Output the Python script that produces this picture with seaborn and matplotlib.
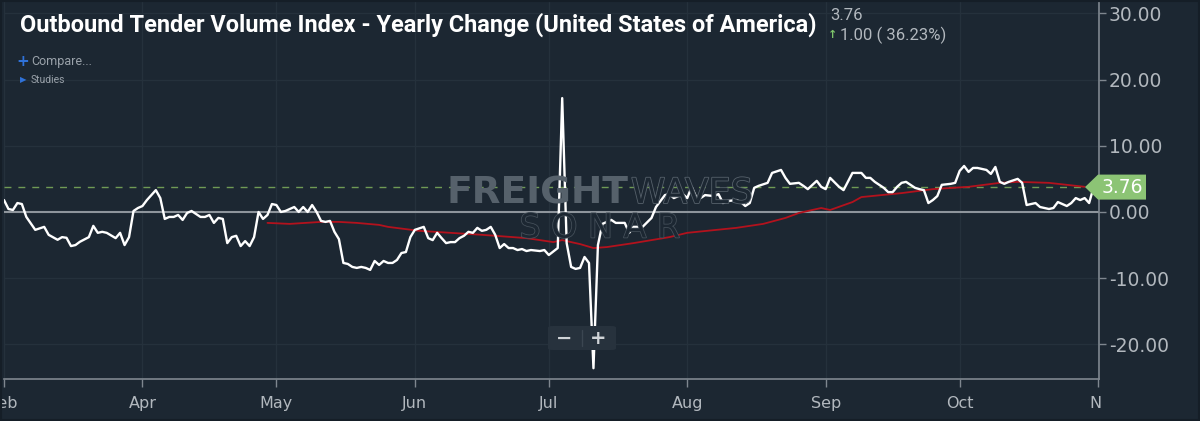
import numpy as np
import pandas as pd
import matplotlib
matplotlib.use("Agg")
import matplotlib.pyplot as plt
import matplotlib.patheffects as pe
from matplotlib.patches import Polygon, FancyBboxPatch, Rectangle
from matplotlib.transforms import Bbox, ScaledTranslation, blended_transform_factory
from matplotlib.lines import Line2D
import seaborn as sns

# ---------------- data ----------------
START = "2019-03-01"
otvi_days = [0, 1, 2, 3, 4, 5, 7, 9, 10, 12, 13, 14, 15, 16, 17, 19, 20, 21, 22, 23, 25, 26, 27, 28, 29, 30,
             31, 32, 34, 35, 36, 37, 38, 39, 40, 41, 42, 44, 45, 46, 47, 48, 49, 50, 51, 52, 53, 54, 55, 56,
             57, 58, 59, 60, 61, 62, 63, 65, 66, 67, 68, 69, 70, 71, 72, 73, 74, 75, 76, 77, 78, 79, 80, 81,
             82, 83, 84, 85, 86, 87, 88, 89, 90, 91, 92, 94, 95, 96, 97, 98, 99, 100, 101, 102, 103, 104, 105,
             106, 107, 108, 109, 110, 111, 112, 113, 114, 115, 116, 117, 118, 120, 121, 122, 124, 125, 126,
             127, 128, 129, 130, 131, 132, 133, 134, 135, 136, 137, 139, 140, 141, 143, 145, 146, 148, 149,
             150, 152, 153, 154, 155, 156, 157, 159, 160, 161, 162, 164, 165, 166, 167, 168, 169, 171, 172,
             174, 175, 176, 178, 179, 180, 182, 183, 184, 185, 187, 188, 190, 191, 192, 193, 194, 195, 197,
             198, 199, 200, 201, 202, 204, 205, 206, 207, 208, 209, 210, 212, 213, 214, 215, 216, 217, 218,
             220, 221, 222, 223, 224, 225, 227, 228, 229, 231, 232, 234, 235, 236, 238, 239, 240, 241, 242,
             243, 244]
otvi_values = [1.8, 0.45, 0.3, 1.35, 1.2, -0.75, -2.7, -2.25, -3.45, -4.2, -3.8, -3.9, -5.15, -5.0, -4.5,
               -3.8, -2.1, -3.15, -3.0, -3.15, -3.95, -3.15, -5.0, -3.8, 0.15, 0.6, 0.9, 1.8, 3.3, 2.1,
               -1.05, -0.75, -0.75, -0.45, -1.2, -0.15, 0.15, -0.75, -0.75, -0.45, -1.65, -0.9, -1.05, -4.7,
               -3.8, -3.6, -5.15, -4.4, -5.15, -3.8, 0.0, -1.05, -0.45, 1.2, 1.05, 0.0, 0.15, 0.75, 0.0, 0.75,
               0.0, 1.05, 0.0, -1.35, -1.5, -1.35, -3.0, -4.1, -7.7, -7.85, -8.3, -8.45, -8.3, -8.45, -8.75,
               -7.4, -8.0, -7.4, -7.7, -7.7, -7.25, -6.2, -6.05, -3.8, -2.7, -2.25, -3.95, -4.25, -3.15,
               -3.95, -4.7, -4.55, -4.55, -3.95, -3.6, -3.0, -3.15, -2.4, -2.85, -2.7, -2.25, -3.45, -5.45,
               -4.85, -5.45, -5.45, -5.75, -5.6, -5.9, -5.75, -5.9, -5.75, -6.5, -5.45, 17.2, -4.7, -8.3,
               -8.6, -8.45, -6.8, -7.7, -23.6, -5.0, -1.8, -1.5, -1.2, -1.65, -1.65, -3.15, -2.25, -2.25,
               -0.9, 0.75, 2.55, 2.7, 2.1, 2.7, 2.1, 3.8, 2.25, 2.1, 2.55, 2.4, 2.7, 1.35, 1.65, 1.8, 1.5,
               0.9, 1.35, 3.65, 3.95, 4.4, 5.9, 6.35, 5.15, 4.25, 4.4, 3.95, 3.45, 4.7, 3.8, 3.45, 5.15, 3.8,
               3.3, 5.9, 5.9, 5.9, 5.15, 5.15, 4.55, 3.65, 3.0, 3.0, 3.8, 4.4, 4.55, 3.65, 3.45, 3.3, 1.35,
               1.8, 2.4, 4.1, 4.25, 4.4, 6.2, 6.95, 6.05, 6.65, 6.65, 6.35, 5.75, 6.8, 4.55, 4.25, 4.55, 5.0,
               4.4, 1.05, 1.35, 0.75, 0.45, 0.6, 1.5, 0.9, 1.35, 2.1, 1.8, 2.1, 1.35, 3.76]
ma_days = [59, 64, 71, 75, 79, 84, 86, 93, 107, 117, 123, 125, 129, 132, 135, 141, 149, 153, 164, 170,
           175, 178, 183, 185, 190, 192, 201, 208, 216, 223, 227, 234, 242]
ma_values = [-1.65, -1.8, -1.5, -1.5, -1.65, -1.95, -2.25, -2.85, -3.45, -3.95, -4.55, -4.25, -4.85, -5.45,
             -5.3, -4.7, -3.8, -3.15, -2.4, -1.8, -0.9, -0.15, 0.6, 0.3, 1.5, 2.25, 2.85, 3.45, 3.8, 4.4,
             4.55, 4.4, 3.8]
last_value = 3.76
change_text = "1.00 ( 36.23%)"
month_ticks = ["2019-03-01", "2019-04-01", "2019-05-01", "2019-06-01", "2019-07-01",
               "2019-08-01", "2019-09-01", "2019-10-01", "2019-11-01"]
month_labels = ["Feb", "Apr", "May", "Jun", "Jul", "Aug", "Sep", "Oct", "Nov"]
y_ticks = [-20, -10, 0, 10, 20, 30]
title = "Outbound Tender Volume Index - Yearly Change (United States of America)"

# ---------------- styling ----------------
BG = "#1c2732"
GRID = "#25313c"
AXIS = "#7f878f"
TXT = "#b2b8be"
WM = "#56616b"

sns.set_theme(style="dark")
plt.rcParams["font.family"] = ["DejaVu Sans"]

W, H = 1200, 421
fig = plt.figure(figsize=(W / 100, H / 100), dpi=100, facecolor=BG)
ax = fig.add_axes([4 / W, 1 - 379 / H, (1099 - 4) / W, 379 / H])
ax.set_facecolor(BG)

start = pd.Timestamp(START)
df = pd.DataFrame({"date": start + pd.to_timedelta(otvi_days, unit="D"), "value": otvi_values})
dma = pd.DataFrame({"date": start + pd.to_timedelta(ma_days, unit="D"), "value": ma_values})


def fx(px):
    return px / W


def fy(py):
    return 1 - py / H


# watermark (behind data)
fig.text(fx(628), fy(193), "FREIGHT", ha="right", va="center", fontsize=27, fontweight="bold",
         color=WM, family=["DejaVu Sans"], zorder=0.5)
fig.text(fx(631), fy(193), "WAVES", ha="left", va="center", fontsize=25, color=BG,
         family=["DejaVu Sans"], zorder=0.5,
         path_effects=[pe.Stroke(linewidth=1.2, foreground=WM), pe.Normal()])
fig.text(fx(600), fy(228), "S O N A R", ha="center", va="center", fontsize=24, color=BG,
         family=["DejaVu Sans"], zorder=0.5,
         path_effects=[pe.Stroke(linewidth=1.1, foreground="#47525c"), pe.Normal()])
ax.patch.set_alpha(0)

# reference lines
ax.axhline(0, color="#8e959c", lw=1.5, zorder=2)
ax.axhline(last_value, color="#6f9a55", lw=1.0, ls=(0, (5, 5)), zorder=2)

sns.lineplot(data=dma, x="date", y="value", ax=ax, color="#b3121d", lw=1.3, estimator=None, zorder=3)
sns.lineplot(data=df, x="date", y="value", ax=ax, color="white", lw=1.7, estimator=None, zorder=4)

ax.set_xlim(start, pd.Timestamp("2019-11-01") + pd.Timedelta(hours=5))
ax.set_ylim(-25.23, 32.02)
ax.set_xlabel("")
ax.set_ylabel("")

ax.set_xticks(pd.to_datetime(month_ticks))
ax.set_xticklabels(month_labels)
ax.yaxis.tick_right()
ax.set_yticks(y_ticks)
ax.set_yticklabels([f"{v:.2f}" for v in y_ticks])
ax.tick_params(axis="x", colors=AXIS, labelcolor=TXT, length=6, width=1, pad=6, labelsize=11.5,
               direction="out", bottom=True)
ax.tick_params(axis="y", colors=AXIS, labelcolor=TXT, length=5, width=1, pad=2, labelsize=13.5,
               direction="out", right=True, left=False)
ax.grid(True, color=GRID, lw=1)
for s in ["top", "left"]:
    ax.spines[s].set_visible(False)
for s in ["right", "bottom"]:
    ax.spines[s].set_visible(True)
    ax.spines[s].set_color(AXIS)
    ax.spines[s].set_linewidth(1.2)

# last x label clipped at plot edge like the original
lbls = ax.get_xticklabels()
lastlbl = lbls[-1]
lastlbl.set_horizontalalignment("left")
lastlbl.set_transform(lastlbl.get_transform() + ScaledTranslation(-9 / 100, 0, fig.dpi_scale_trans))
lastlbl.set_clip_box(Bbox.from_extents(0, 0, 1101, H))
lastlbl.set_clip_on(True)

# price label on the axis
bt = blended_transform_factory(fig.transFigure, ax.transData)
hh = 12.5 / (379 / (32.02 + 25.23))
poly = Polygon([(fx(1085), last_value), (fx(1098), last_value + hh), (fx(1146), last_value + hh),
                (fx(1146), last_value - hh), (fx(1098), last_value - hh)], closed=True,
               transform=bt, facecolor="#8cc475", edgecolor="none", clip_on=False, zorder=10)
ax.add_patch(poly)
ax.text(fx(1122), last_value, f"{last_value:.2f}", transform=bt, ha="center", va="center",
        fontsize=13.5, color="white", clip_on=False, zorder=11)

# zoom buttons
btn = FancyBboxPatch((fx(548), fy(350)), (616 - 548) / W, 24 / H, boxstyle="round,pad=0,rounding_size=0.004",
                     transform=fig.transFigure, facecolor="#27323d", edgecolor="none", zorder=12)
fig.patches.append(btn)
fig.add_artist(Line2D([fx(582), fx(582)], [fy(346), fy(330)], transform=fig.transFigure,
                      color="#3b4651", lw=1, zorder=13))
fig.text(fx(564), fy(338), "−", ha="center", va="center", fontsize=14, fontweight="bold",
         color="#cfd3d7", zorder=13)
fig.text(fx(598), fy(338), "+", ha="center", va="center", fontsize=14, fontweight="bold",
         color="#cfd3d7", zorder=13)

# header texts
t = fig.text(fx(20), fy(25), title, ha="left", va="center", fontsize=18, fontweight="bold",
             color="white", family=["Liberation Sans Narrow", "Roboto", "DejaVu Sans"], zorder=20)
fig.canvas.draw()
w = t.get_window_extent(fig.canvas.get_renderer()).width
t.set_fontsize(18 * 795 / w)

fig.text(fx(830), fy(15), f"{last_value:.2f}", ha="left", va="center", fontsize=12, color=TXT,
         family=["Roboto", "DejaVu Sans"])
fig.text(fx(833), fy(35), "↑", ha="center", va="center", fontsize=8, fontweight="bold",
         color="#7cc46a", family=["DejaVu Sans"])
fig.text(fx(840), fy(35), change_text, ha="left", va="center", fontsize=12, color=TXT,
         family=["Roboto", "DejaVu Sans"])

fig.text(fx(23), fy(62), "+", ha="center", va="center", fontsize=11, fontweight="bold",
         color="#2f72d9")
fig.text(fx(31), fy(62), "Compare...", ha="left", va="center", fontsize=9, color="#9aa2aa",
         family=["Roboto", "DejaVu Sans"])
fig.text(fx(23), fy(80), "▶", ha="center", va="center", fontsize=6, color="#2f72d9")
fig.text(fx(31), fy(80), "Studies", ha="left", va="center", fontsize=7.5, color="#9aa2aa",
         family=["Roboto", "DejaVu Sans"])

# outer frame
fig.patches.append(Rectangle((0, 0), 1, 1, transform=fig.transFigure, facecolor="none",
                             edgecolor="#151e27", lw=3, zorder=30))

fig.savefig("out.png", dpi=100, facecolor=BG)
